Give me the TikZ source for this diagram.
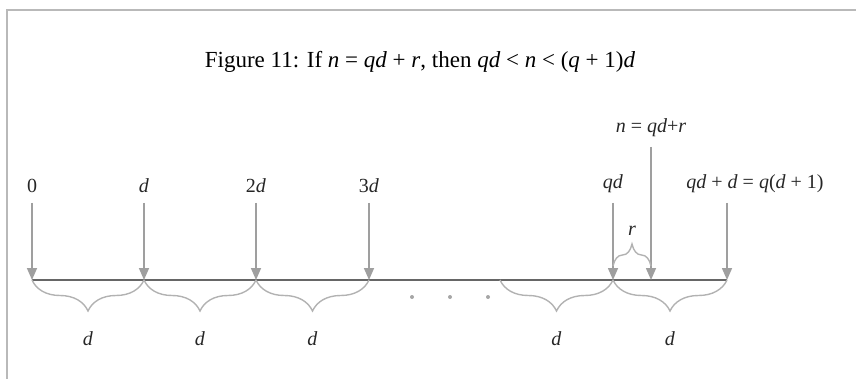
\documentclass[tikz,border=0pt]{standalone}
\usepackage{fontspec}
\setmainfont{Liberation Serif}
\usetikzlibrary{positioning, arrows.meta, decorations.pathreplacing}

\begin{document}
\begin{tikzpicture}[x=0.5pt, y=-0.5pt, >={Triangle[width=5pt,length=6pt]},
        tick/.style={->, draw=gray!75, line width=0.8pt},
        axis/.style={draw=black!60, line width=1.1pt},
        span/.style={draw=gray!60, line width=0.7pt, decorate, decoration={brace, mirror, amplitude=15.5pt}},
        rest/.style={draw=gray!60, line width=0.7pt, decorate, decoration={brace, amplitude=11pt}},
        lbl/.style={inner sep=1pt, text=black!85},
        frame/.style={draw=gray!55, line width=1pt}]
        \useasboundingbox (0,0) rectangle (856,379);
        \draw[frame] (856,10) -- (7,10) -- (7,379);

        \node[font=\fontsize{11.5}{14}\selectfont] (title) at (420,62) {Figure 11: If \textit{n} = \textit{qd} + \textit{r}, then \textit{qd} < \textit{n} < (\textit{q} + 1)\textit{d}};

        % points on the line
        \foreach \x/\n in {32/a0, 144/a1, 256/a2, 369/a3, 500/ab, 613/aq, 651/an, 727/ae}
            \coordinate (\n) at (\x,280);
        % arrow starts
        \foreach \x/\n in {32/t0, 144/t1, 256/t2, 369/t3, 613/tq, 727/te}
            \coordinate (\n) at (\x,203);
        \coordinate (tn) at (651,147);

        \draw[axis] (a0) -- (ae);

        \node[lbl, above=4pt of t0] (l0) {0};
        \node[lbl, above=4pt of t1] (l1) {\textit{d}};
        \node[lbl, above=4pt of t2] (l2) {2\textit{d}};
        \node[lbl, above=4pt of t3] (l3) {3\textit{d}};
        \node[lbl, above=4pt of tq] (lq) {\textit{qd}};
        \node[lbl, above=4pt of tn] (ln) {\textit{n} = \textit{qd}+\textit{r}};
        \node[lbl, above=4pt of te, xshift=14pt] (le) {\textit{qd} + \textit{d} = \textit{q}(\textit{d} + 1)};

        \foreach \t/\a in {t0/a0, t1/a1, t2/a2, t3/a3, tq/aq, tn/an, te/ae}
            \draw[tick] (\t) -- (\a);

        % braces under the line
        \foreach \a/\b in {a0/a1, a1/a2, a2/a3, ab/aq, aq/ae}
            \draw[span] (\a) -- node[lbl, below=24.5pt] {\textit{d}} (\b);

        % the rest r
        \coordinate (rq) at (613,266);
        \coordinate (rn) at (651,266);
        \draw[rest] (rq) -- node[lbl, above=14pt] (lr) {\textit{r}} (rn);

        \foreach \x in {412, 450, 488}
            \fill[gray!70] (\x,297) circle (1pt);
\end{tikzpicture}
\end{document}
